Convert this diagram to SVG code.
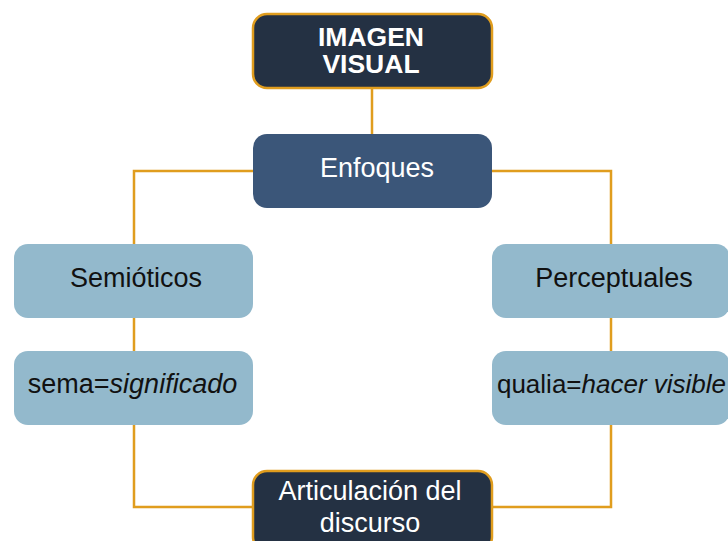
<svg xmlns="http://www.w3.org/2000/svg" width="728" height="541" viewBox="0 0 728 541">
<style>
.t{font-family:"Liberation Sans",Arial,sans-serif;font-size:27px;text-anchor:middle}
.w{fill:#ffffff}
.k{fill:#111111}
.b{font-weight:bold;font-size:26.5px}
.dark{fill:#243143;stroke:#e09d1e;stroke-width:2.5}
.mid{fill:#3b5679}
.lt{fill:#93b9cc}
.c{fill:none;stroke:#e09d1e;stroke-width:2.5}
</style>
<rect width="728" height="541" fill="#ffffff"/>
<g id="connectors">
<path class="c" d="M372,88 V135"/>
<path class="c" d="M253,171 H134 V244"/>
<path class="c" d="M492,171 H611 V244"/>
<path class="c" d="M134,318 V351"/>
<path class="c" d="M611,318 V351"/>
<path class="c" d="M134,425 V507 H253"/>
<path class="c" d="M611,425 V507 H492"/>
</g>
<g id="imagen">
<rect class="dark" x="253" y="14" width="239" height="74" rx="14"/>
<text class="t w b" x="371" y="45.5">IMAGEN</text>
<text class="t w b" x="371" y="73">VISUAL</text>
</g>
<g id="enfoques">
<rect class="mid" x="253" y="134" width="239" height="74" rx="14"/>
<text class="t w" x="377" y="177">Enfoques</text>
</g>
<g id="semioticos">
<rect class="lt" x="14" y="244" width="239" height="74" rx="14"/>
<text class="t k" x="136" y="287">Semióticos</text>
</g>
<g id="sema">
<rect class="lt" x="14" y="351" width="239" height="74" rx="14"/>
<text class="t k" x="132.5" y="393">sema=<tspan font-style="italic">significado</tspan></text>
</g>
<g id="perceptuales">
<rect class="lt" x="492" y="244" width="238" height="74" rx="14"/>
<text class="t k" x="614" y="287">Perceptuales</text>
</g>
<g id="qualia">
<rect class="lt" x="492" y="351" width="238" height="74" rx="14"/>
<text class="t k" x="611.5" y="393" style="font-size:26px">qualia=<tspan font-style="italic">hacer visible</tspan></text>
</g>
<g id="articulacion">
<rect class="dark" x="253" y="471" width="239" height="80" rx="14"/>
<text class="t w" x="370" y="500">Articulación del</text>
<text class="t w" x="370" y="532">discurso</text>
</g>
</svg>
